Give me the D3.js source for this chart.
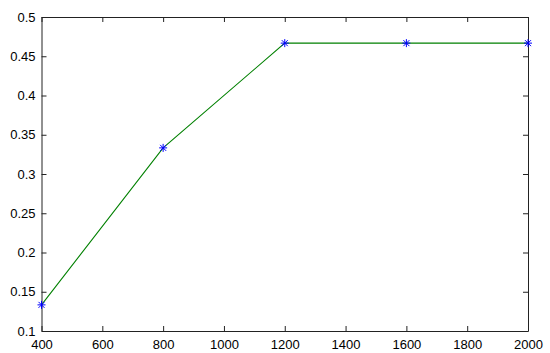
<!DOCTYPE html>
<html><head><meta charset="utf-8">
<script src="https://cdn.jsdelivr.net/npm/d3@7"></script>
<style>
html,body{margin:0;padding:0;background:#fff;}
svg{display:block;}
text{font-family:Arial,"Liberation Sans",sans-serif;font-size:13px;fill:#000;}
</style></head>
<body><svg id="c" width="550" height="353"></svg>
<script>
const xValues = [400, 800, 1200, 1600, 2000];
const yValues = [0.1333, 0.3333, 0.4667, 0.4667, 0.4667];
const xTicks = [400, 600, 800, 1000, 1200, 1400, 1600, 1800, 2000];
const yTicks = [0.1, 0.15, 0.2, 0.25, 0.3, 0.35, 0.4, 0.45, 0.5];

const svg = d3.select("#c");
const L = 41.5, R = 528, T = 17, B = 331;
const x = d3.scaleLinear().domain([400, 2000]).range([L, R]);
const y = d3.scaleLinear().domain([0.1, 0.5]).range([B, T]);

const tl = 5;
// bottom axis
const gb = svg.append("g").attr("transform", `translate(0,${B})`)
  .call(d3.axisBottom(x).tickValues(xTicks).tickFormat(d3.format("d")).tickSizeInner(-tl).tickSizeOuter(0).tickPadding(9));
// top axis (ticks only)
const gt = svg.append("g").attr("transform", `translate(0,${T})`)
  .call(d3.axisTop(x).tickValues(xTicks).tickFormat("").tickSizeInner(-tl).tickSizeOuter(0));
// left axis
const gl = svg.append("g").attr("transform", `translate(${L},0)`)
  .call(d3.axisLeft(y).tickValues(yTicks).tickFormat(d => String(d)).tickSizeInner(-tl).tickSizeOuter(0).tickPadding(6));
// right axis
const gr = svg.append("g").attr("transform", `translate(${R},0)`)
  .call(d3.axisRight(y).tickValues(yTicks).tickFormat("").tickSizeInner(-tl).tickSizeOuter(0));

svg.selectAll(".domain").attr("stroke", "#222").attr("stroke-width", 1);
svg.selectAll(".tick line").attr("stroke", "#222");
svg.selectAll(".tick text").attr("fill", "#000").style("font-size", "13px").style("font-family", "Arial, 'Liberation Sans', sans-serif");

// line
const line = d3.line().x((d, i) => x(xValues[i])).y(d => y(d));
svg.append("path").datum(yValues).attr("d", line)
  .attr("fill", "none").attr("stroke", "#008000").attr("stroke-width", 1.1);

// asterisk markers
const s = 4;
const mk = svg.append("g").attr("stroke", "#0000ff").attr("stroke-width", 1);
yValues.forEach((v, i) => {
  const cx = x(xValues[i]), cy = y(v);
  const g = mk.append("g").attr("transform", `translate(${cx},${cy})`);
  g.append("line").attr("x1", -s).attr("x2", s).attr("y1", 0).attr("y2", 0);
  g.append("line").attr("x1", 0).attr("x2", 0).attr("y1", -s).attr("y2", s);
  g.append("line").attr("x1", -s*0.75).attr("x2", s*0.75).attr("y1", -s*0.75).attr("y2", s*0.75);
  g.append("line").attr("x1", -s*0.75).attr("x2", s*0.75).attr("y1", s*0.75).attr("y2", -s*0.75);
});
</script></body></html>
